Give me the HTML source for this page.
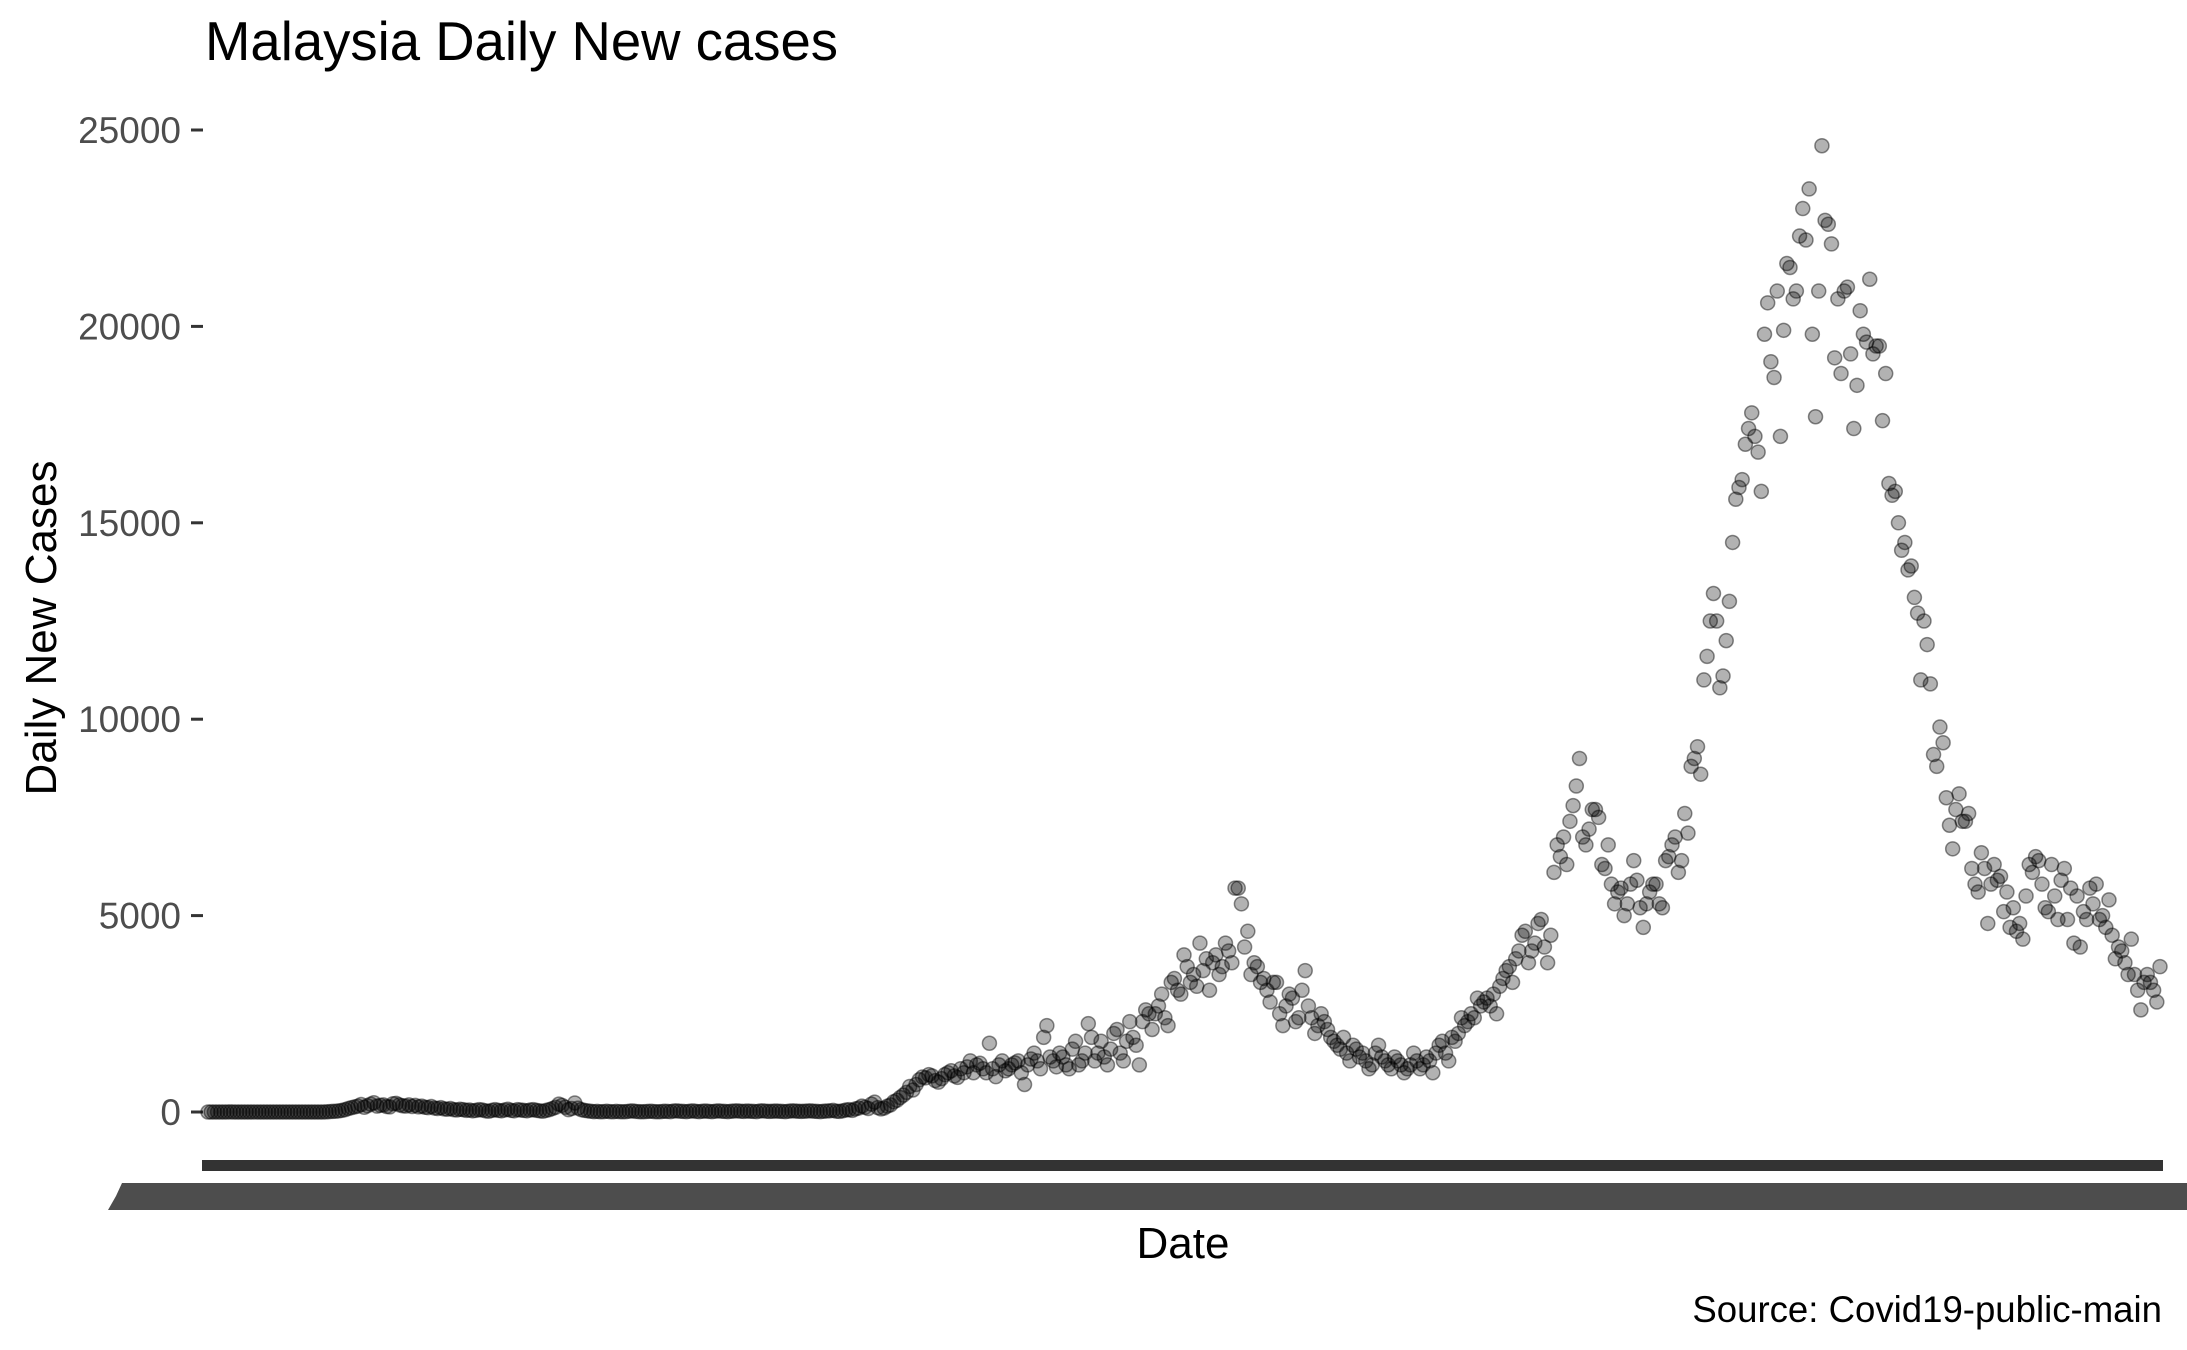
<!DOCTYPE html>
<html><head><meta charset="utf-8"><style>
html,body{margin:0;padding:0;background:#fff;}
svg{display:block;font-family:"Liberation Sans",Arial,sans-serif;}
</style></head><body>
<svg id="chart" width="2187" height="1350" viewBox="0 0 2187 1350" xmlns="http://www.w3.org/2000/svg">
<text x="205" y="60" font-size="54.5" fill="#000">Malaysia Daily New cases</text>
<g id="yaxis"></g>
<g id="points"></g>
<rect x="202" y="1160" width="1961" height="11" fill="#333"/>
<polygon points="122,1183 2187,1183 2187,1210 108,1210 116,1196" fill="#4d4d4d"/>
<text x="1183" y="1258" font-size="44" text-anchor="middle" fill="#000">Date</text>
<text transform="translate(56,628) rotate(-90)" font-size="44" text-anchor="middle" fill="#000">Daily New Cases</text>
<text x="2162" y="1322" font-size="36.6" text-anchor="end" fill="#000">Source: Covid19-public-main</text>
</svg>
<script>
const yTicks=[0,5000,10000,15000,20000,25000];
const yTickLabels=["0","5000","10000","15000","20000","25000"];
const cases=[
0,0,0,1,0,0,0,2,0,0,1,0,0,0,0,1,0,0,0,0,0,0,0,0,0,0,0,0,0,0,0,0,0,0,0,0,1,3,10,15,20,28,40,60,90,
110,130,150,190,120,160,200,235,150,170,180,140,130,210,220,180,160,150,180,140,170,130,150,120,110,140,100,90,110,80,70,90,60,50,70,
60,40,50,30,40,60,50,30,20,40,60,40,30,50,70,40,30,60,50,40,30,50,60,40,30,20,40,60,90,120,200,170,120,60,90,230,100,60,40,30,
20,10,15,5,10,20,10,5,15,10,5,10,20,30,15,10,5,10,15,20,10,5,10,20,15,10,25,30,20,15,10,20,30,15,10,20,25,15,10,20,30,20,15,10,20,25,30,20,15,25,20,15,10,25,30,20,15,20,25,20,15,10,20,30,25,20,15,20,25,30,20,15,10,20,25,30,40,20,15,30,
50,60,40,80,100,150,120,90,200,250,110,80,100,150,180,260,300,370,430,500,650,560,700,820,890,870,950,920,800,760,850,950,1000,1050,920,880,1100,1000,1150,1300,
1000,1200,1240,1100,1000,1750,1100,900,1200,1300,1050,1100,1200,1250,1300,1000,700,1200,1350,1500,1300,1100,1900,2200,1400,1300,1150,1500,1400,1200,1100,1600,1800,1200,1300,1500,2250,1900,1300,1500,
1800,1400,1200,1600,2000,2100,1500,1300,1800,2300,1900,1700,1200,2300,2600,2500,2100,2500,2700,3000,2400,2200,3300,3400,3100,3000,4000,3700,3300,3500,3200,4300,3600,3900,3100,3800,4000,3500,3700,4300,
4100,3800,5700,5700,5300,4200,4600,3500,3800,3700,3300,3400,3100,2800,3300,3300,2500,2200,2700,3000,2900,2300,2400,3100,3600,2700,2400,2000,2200,2500,2300,2100,1900,1800,1700,1600,1900,1500,1300,1700,
1600,1400,1500,1300,1100,1200,1500,1700,1400,1300,1200,1100,1400,1300,1200,1000,1100,1200,1500,1300,1100,1200,1400,1300,1000,1500,1700,1800,1500,1300,1900,1800,2000,2400,2200,2300,2500,2400,2900,2700,
2800,2900,2700,3000,2500,3200,3400,3600,3700,3300,3900,4100,4500,4600,3800,4100,4300,4800,4900,4200,3800,4500,6100,6800,6500,7000,6300,7400,7800,8300,9000,7000,6800,7200,7700,7700,7500,6300,6200,6800,
5800,5300,5600,5700,5000,5300,5800,6400,5900,5200,4700,5300,5600,5800,5800,5300,5200,6400,6500,6800,7000,6100,6400,7600,7100,8800,9000,9300,8600,11000,11600,12500,13200,12500,10800,11100,12000,13000,14500,15600,
15900,16100,17000,17400,17800,17200,16800,15800,19800,20600,19100,18700,20900,17200,19900,21600,21500,20700,20900,22300,23000,22200,23500,19800,17700,20900,24600,22700,22600,22100,19200,20700,18800,20900,21000,19300,17400,18500,20400,19800,
19600,21200,19300,19500,19500,17600,18800,16000,15700,15800,15000,14300,14500,13800,13900,13100,12700,11000,12500,11900,10900,9100,8800,9800,9400,8000,7300,6700,7700,8100,7400,7400,7600,6200,5800,5600,6600,6200,4800,5800,
6300,5900,6000,5100,5600,4700,5200,4600,4800,4400,5500,6300,6100,6500,6400,5800,5200,5100,6300,5500,4900,5900,6200,4900,5700,4300,5500,4200,5100,4900,5700,5300,5800,4900,5000,4700,5400,4500,3900,4200,
4100,3800,3500,4400,3500,3100,2600,3300,3500,3300,3100,2800,3700
];
const NS="http://www.w3.org/2000/svg";
const X0=208,X1=2160,Y0=1112,YTOP=130,VMAX=25000;
function xScale(i){return X0+i*(X1-X0)/(cases.length-1);}
function yScale(v){return Y0-v*(Y0-YTOP)/VMAX;}
const ya=document.getElementById('yaxis');
yTicks.forEach((t,k)=>{
  const y=yScale(t);
  const ln=document.createElementNS(NS,'line');
  
  
  ln.setAttribute('x1',191);ln.setAttribute('x2',203);ln.setAttribute('y1',y);ln.setAttribute('y2',y);
  ln.setAttribute('stroke','#333');ln.setAttribute('stroke-width',3);
  ya.appendChild(ln);
  const tx=document.createElementNS(NS,'text');
  
  
  tx.setAttribute('x',181);tx.setAttribute('y',y+13);tx.setAttribute('text-anchor','end');
  tx.setAttribute('font-size',37);tx.setAttribute('fill','#4d4d4d');
  tx.textContent=yTickLabels[k];
  ya.appendChild(tx);
});
const pg=document.getElementById('points');
cases.forEach((v,i)=>{
  const c=document.createElementNS(NS,'circle');
  
  
  c.setAttribute('cx',xScale(i));c.setAttribute('cy',yScale(v));
  c.setAttribute('r',7);
  c.setAttribute('fill','rgba(0,0,0,0.3)');c.setAttribute('stroke','rgba(0,0,0,0.45)');c.setAttribute('stroke-width',1.5);
  pg.appendChild(c);
});
</script>
</body></html>
